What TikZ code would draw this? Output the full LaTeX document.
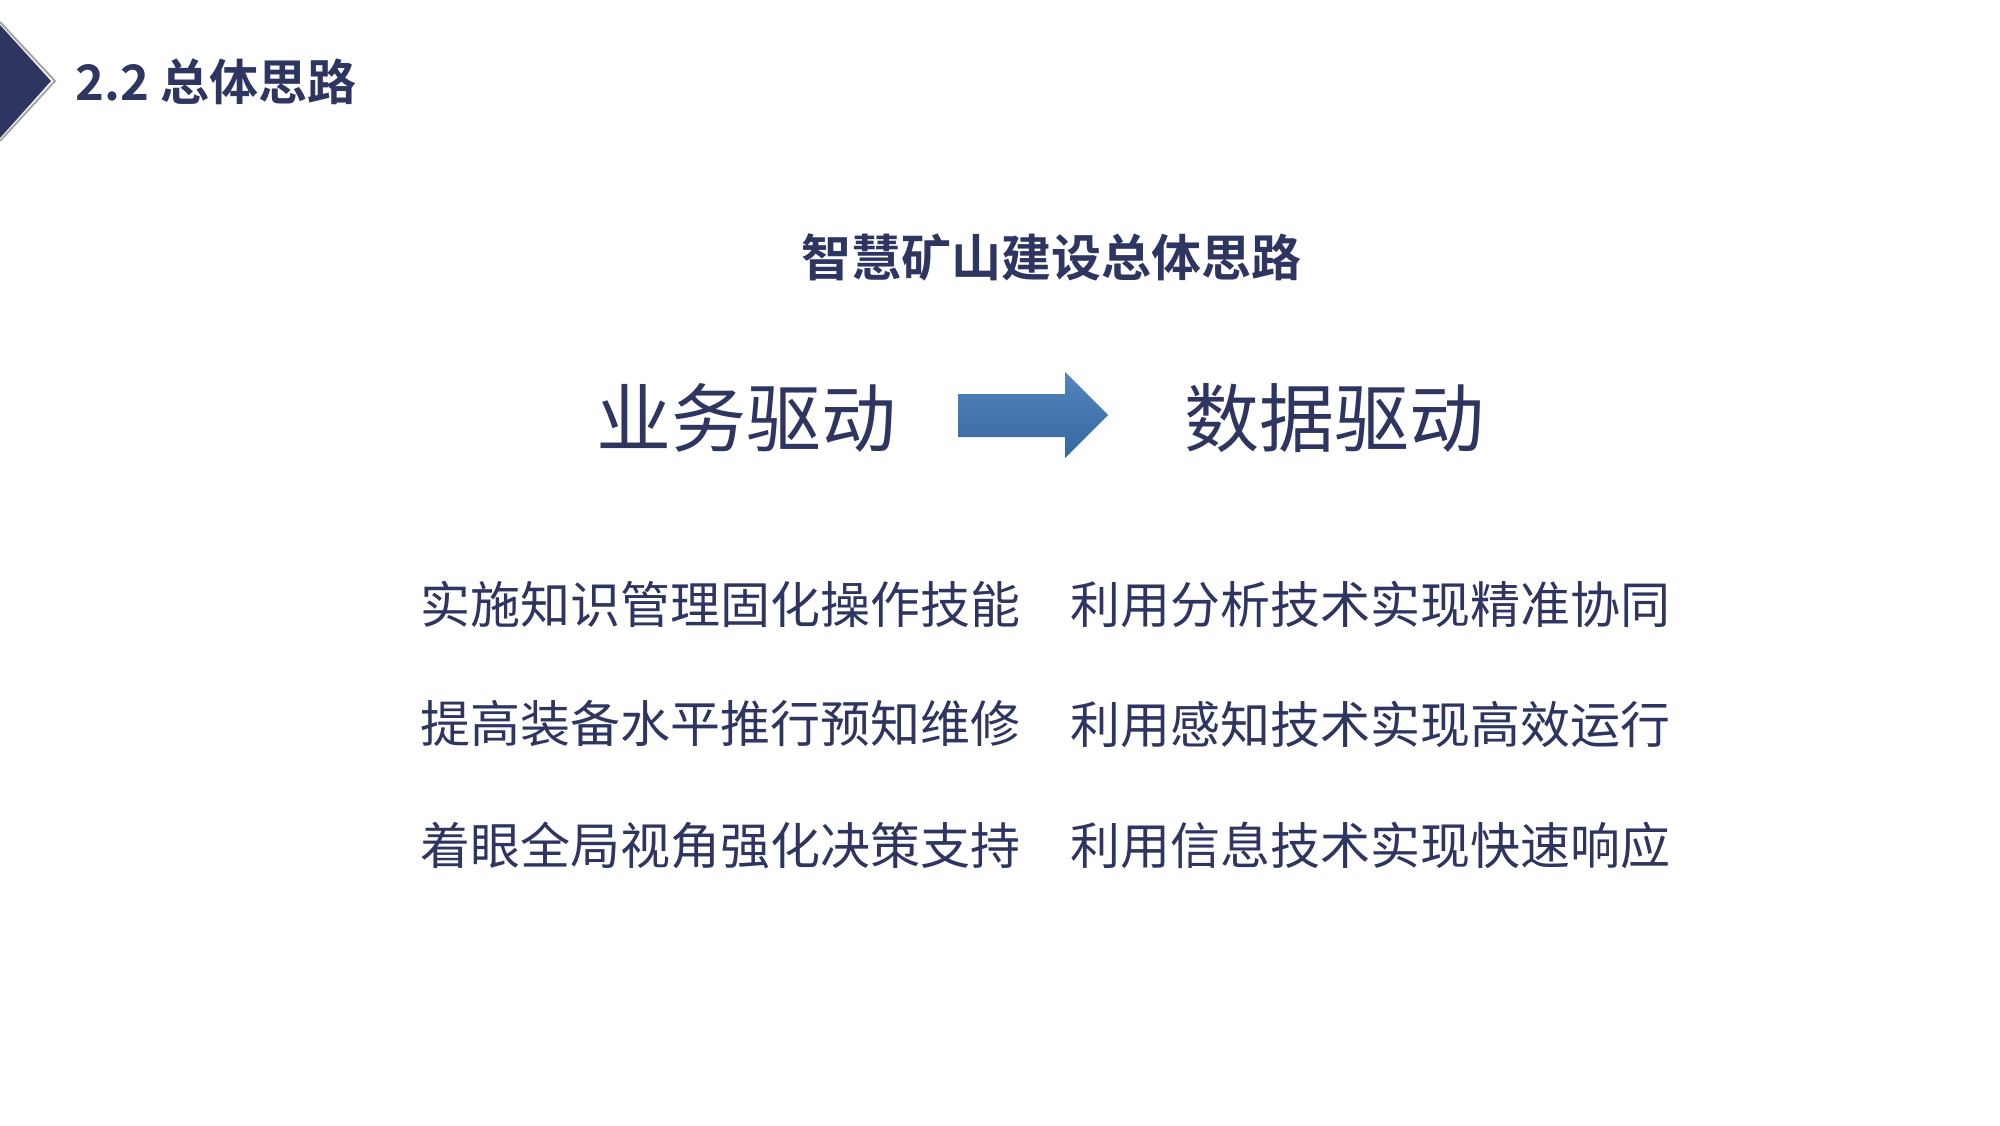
\documentclass[tikz,border=0pt]{standalone}
\usepackage{fontspec}
\setmainfont{Noto Sans CJK SC}
\newfontfamily\cjkb{Noto Sans CJK SC Bold}
\begin{document}
\begin{tikzpicture}[x=1pt,y=-1pt,
  navy/.style={text=ink},
  body/.style={font=\fontsize{50}{50}\selectfont,text=ink,anchor=west,inner sep=0},
  big/.style={font=\fontsize{75}{75}\selectfont,text=ink,inner sep=0}]
\definecolor{ink}{HTML}{2E3560}
\definecolor{arrtop}{HTML}{5283BE}
\definecolor{arrbot}{HTML}{36699F}
\useasboundingbox (0,0) rectangle (2000,1125);
\fill[white] (0,0) rectangle (2000,1125);
% chevron
\draw[gray!70,line width=2pt] (0,22) -- (55,81) -- (0,141);
\fill[ink] (0,25) -- (51,81) -- (0,138) -- cycle;
\node[font=\cjkb\fontsize{49}{49}\selectfont,text=ink,anchor=west,inner sep=0] (title) at (75,82) {2.2 总体思路};
\node[font=\cjkb\fontsize{50}{50}\selectfont,text=ink,inner sep=0] (sub) at (1051,257) {智慧矿山建设总体思路};
\node[big] (a) at (746,418) {业务驱动};
\node[big] (b) at (1334,418) {数据驱动};
\shade[top color=arrtop,bottom color=arrbot] (958,394) -- (1065,394) -- (1065,372) -- (1108,415) -- (1065,458) -- (1065,437) -- (958,437) -- cycle;
\node[body] (l1) at (420,604) {实施知识管理固化操作技能};
\node[body] (l2) at (420,724) {提高装备水平推行预知维修};
\node[body] (l3) at (420,845) {着眼全局视角强化决策支持};
\node[body] (r1) at (1070,604) {利用分析技术实现精准协同};
\node[body] (r2) at (1070,724) {利用感知技术实现高效运行};
\node[body] (r3) at (1070,845) {利用信息技术实现快速响应};
\end{tikzpicture}
\end{document}
